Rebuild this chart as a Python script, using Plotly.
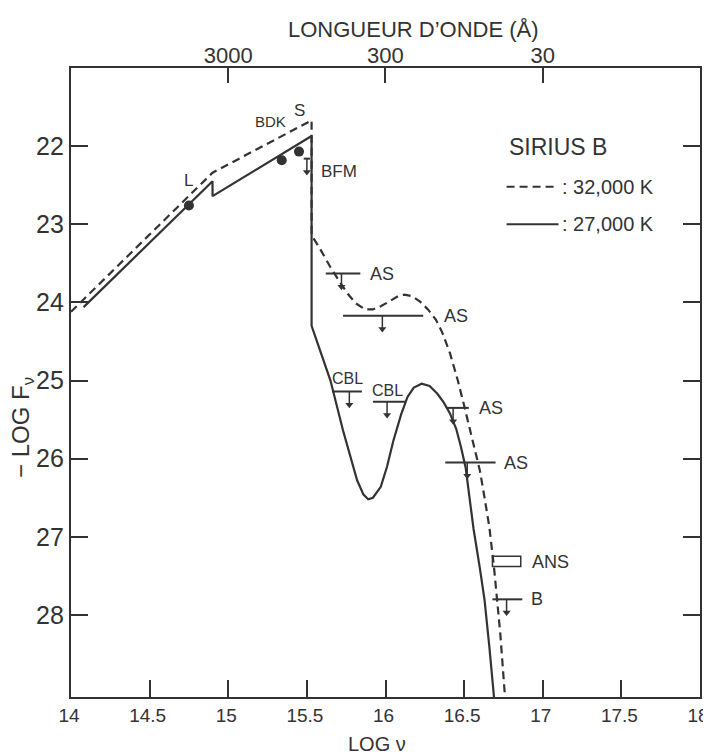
import numpy as np
import plotly.graph_objects as go

# ---------------- data ----------------
# model spectrum, T = 32,000 K  (log nu, -log F_nu)
logv_32k = [14.00, 14.90, 15.53, 15.53, 15.58, 15.65, 15.71, 15.76, 15.81, 15.87,
            15.92, 15.97, 16.03, 16.08, 16.12, 16.17, 16.22, 16.27, 16.32, 16.36,
            16.41, 16.46, 16.50, 16.54, 16.57, 16.60, 16.63, 16.66, 16.69, 16.71,
            16.73, 16.76]
mlogf_32k = [24.12, 22.34, 21.67, 23.14, 23.30, 23.55, 23.74, 23.89, 24.01, 24.09,
             24.09, 24.05, 23.98, 23.92, 23.90, 23.92, 23.99, 24.09, 24.22, 24.38,
             24.65, 25.00, 25.32, 25.64, 25.90, 26.15, 26.50, 26.87, 27.39, 27.80,
             28.24, 29.05]

# model spectrum, T = 27,000 K
logv_27k = [14.08, 14.90, 14.90, 15.53, 15.53, 15.54, 15.60, 15.65, 15.73, 15.78,
            15.82, 15.86, 15.89, 15.92, 15.97, 16.01, 16.05, 16.10, 16.14, 16.18,
            16.23, 16.28, 16.33, 16.37, 16.41, 16.45, 16.48, 16.51, 16.53, 16.56,
            16.60, 16.63, 16.66, 16.69]
mlogf_27k = [24.06, 22.45, 22.64, 21.87, 24.30, 24.36, 24.70, 25.00, 25.64, 26.00,
             26.28, 26.46, 26.52, 26.50, 26.36, 26.10, 25.77, 25.43, 25.21, 25.09,
             25.04, 25.07, 25.17, 25.28, 25.42, 25.62, 25.85, 26.12, 26.41, 26.90,
             27.40, 27.81, 28.40, 29.05]

# measured fluxes (filled circles)
obs_logv = [14.75, 15.34, 15.45]
obs_mlogf = [22.76, 22.18, 22.07]

# upper limits: band edges, level, arrow position
lim_names = ["BFM", "AS", "AS", "CBL", "CBL", "AS", "AS", "B"]
lim_logv_lo = [15.48, 15.62, 15.73, 15.66, 15.92, 16.39, 16.38, 16.68]
lim_logv_hi = [15.52, 15.84, 16.24, 15.85, 16.13, 16.53, 16.70, 16.87]
lim_mlogf = [22.16, 23.63, 24.17, 25.14, 25.27, 25.35, 26.05, 27.80]
lim_logv_arrow = [15.50, 15.72, 15.98, 15.77, 16.01, 16.43, 16.52, 16.77]

# ANS measurement box
ans_logv = [16.68, 16.86]
ans_mlogf = [27.25, 27.38]

# axes
x_ticks = [14, 14.5, 15, 15.5, 16, 16.5, 17, 17.5, 18]
x_ticktext = ["14", "14.5", "15", "15.5", "16", "16.5", "17", "17.5", "18"]
y_ticks = [22, 23, 24, 25, 26, 27, 28]
wavelengths_A = [3000, 300, 30]

# ---------------- styling ----------------
FONT = "Liberation Sans"
INK = "#333333"
ARROW = 0.17

fig = go.Figure()

fig.add_trace(go.Scatter(x=logv_32k, y=mlogf_32k, mode="lines",
                         line=dict(color=INK, width=2.2, dash="8px,5px"),
                         hoverinfo="skip", showlegend=False))
fig.add_trace(go.Scatter(x=logv_27k, y=mlogf_27k, mode="lines",
                         line=dict(color=INK, width=2.2),
                         hoverinfo="skip", showlegend=False))
fig.add_trace(go.Scatter(x=obs_logv, y=obs_mlogf, mode="markers",
                         marker=dict(color=INK, size=10),
                         hoverinfo="skip", showlegend=False))

# limit bars and arrows
bx, by, ax, ay = [], [], [], []
for lo, hi, yv, xa in zip(lim_logv_lo, lim_logv_hi, lim_mlogf, lim_logv_arrow):
    bx += [lo, hi, None]
    by += [yv, yv, None]
    ax += [xa, xa, None]
    ay += [yv, yv + ARROW, None]
fig.add_trace(go.Scatter(x=bx, y=by, mode="lines", line=dict(color=INK, width=2),
                         hoverinfo="skip", showlegend=False))
fig.add_trace(go.Scatter(x=ax, y=ay, mode="lines", line=dict(color=INK, width=1.5),
                         hoverinfo="skip", showlegend=False))
fig.add_trace(go.Scatter(x=lim_logv_arrow, y=[v + ARROW for v in lim_mlogf],
                         mode="markers",
                         marker=dict(symbol="triangle-down", size=7, color=INK),
                         hoverinfo="skip", showlegend=False))

# ANS box
fig.add_trace(go.Scatter(
    x=[ans_logv[0], ans_logv[1], ans_logv[1], ans_logv[0], ans_logv[0]],
    y=[ans_mlogf[0], ans_mlogf[0], ans_mlogf[1], ans_mlogf[1], ans_mlogf[0]],
    mode="lines", line=dict(color=INK, width=1.5),
    hoverinfo="skip", showlegend=False))

# top axis (wavelength)
top_pos = [np.log10(2.998e18 / w) for w in wavelengths_A]
fig.add_trace(go.Scatter(x=top_pos, y=[21.5] * len(top_pos), xaxis="x2",
                         mode="markers", marker=dict(size=1, opacity=0),
                         hoverinfo="skip", showlegend=False))

# legend drawn by hand
fig.add_shape(type="line", x0=16.77, x1=17.09, y0=22.52, y1=22.52, xref="x", yref="y",
              line=dict(color=INK, width=2, dash="8px,5px"))
fig.add_shape(type="line", x0=16.77, x1=17.10, y0=23.0, y1=23.0, xref="x", yref="y",
              line=dict(color=INK, width=2))

ann = []
def txt(x, y, s, size, xanchor="left", xref="x", yref="y", angle=0):
    ann.append(dict(x=x, y=y, text=s, xref=xref, yref=yref, showarrow=False,
                    xanchor=xanchor, yanchor="middle", textangle=angle,
                    font=dict(family=FONT, size=size, color=INK)))

txt(16.77, 22.01, "SIRIUS B", 23)
txt(17.11, 22.52, ": 32,000 K", 20)
txt(17.11, 23.00, ": 27,000 K", 20)

# point labels
txt(14.75, 22.44, "L", 17, "center")
txt(15.27, 21.69, "BDK", 15, "center")
txt(15.45, 21.55, "S", 17, "center")
txt(15.58, 22.33, "BFM", 17)
txt(15.89, 23.63, "AS", 18)
txt(16.36, 24.17, "AS", 18)
txt(15.76, 24.98, "CBL", 16, "center")
txt(16.01, 25.13, "CBL", 16, "center")
txt(16.58, 25.35, "AS", 18)
txt(16.74, 26.05, "AS", 18)
txt(16.92, 27.32, "ANS", 18)
txt(16.91, 27.80, "B", 18)

# axis titles
txt(0.4865, -0.0747, "LOG ν", 20, "center", "paper", "paper")
txt(0.545, 1.0620, "LONGUEUR D’ONDE (Å)", 22, "center", "paper", "paper")
txt(-0.076, 0.428, "− LOG F<sub>ν</sub>", 24, "center", "paper", "paper", -90)

# the page body adds an 8px offset, so the figure is 8px smaller
fig.update_layout(
    width=703, height=747,
    margin=dict(l=63, r=11, t=60, b=58, autoexpand=False),
    paper_bgcolor="white", plot_bgcolor="white",
    showlegend=False,
    annotations=ann,
    font=dict(family=FONT, color=INK),
    xaxis=dict(range=[14, 18], tickvals=x_ticks, ticktext=x_ticktext,
               ticks="inside", ticklen=17, tickwidth=1.5, tickcolor=INK,
               showline=True, linewidth=2.2, linecolor=INK, mirror=True,
               showgrid=False, zeroline=False, automargin=False,
               ticklabeloverflow="allow", ticklabelshift=-2,
               tickfont=dict(family=FONT, size=19, color=INK)),
    xaxis2=dict(range=[14, 18], overlaying="x", side="top", anchor="y",
                tickvals=top_pos, ticktext=[str(w) for w in wavelengths_A],
                ticks="inside", ticklen=15, tickwidth=1.5, tickcolor=INK,
                showline=False, showgrid=False, zeroline=False, automargin=False,
                ticklabeloverflow="allow",
                tickfont=dict(family=FONT, size=22, color=INK)),
    yaxis=dict(range=[29.05, 21.0], tickvals=y_ticks,
               ticks="inside", ticklen=17, tickwidth=1.5, tickcolor=INK,
               showline=True, linewidth=2.2, linecolor=INK, mirror="ticks",
               showgrid=False, zeroline=False, automargin=False,
               ticklabeloverflow="allow",
               tickfont=dict(family=FONT, size=25, color=INK)),
)

fig.write_html("out.html")
